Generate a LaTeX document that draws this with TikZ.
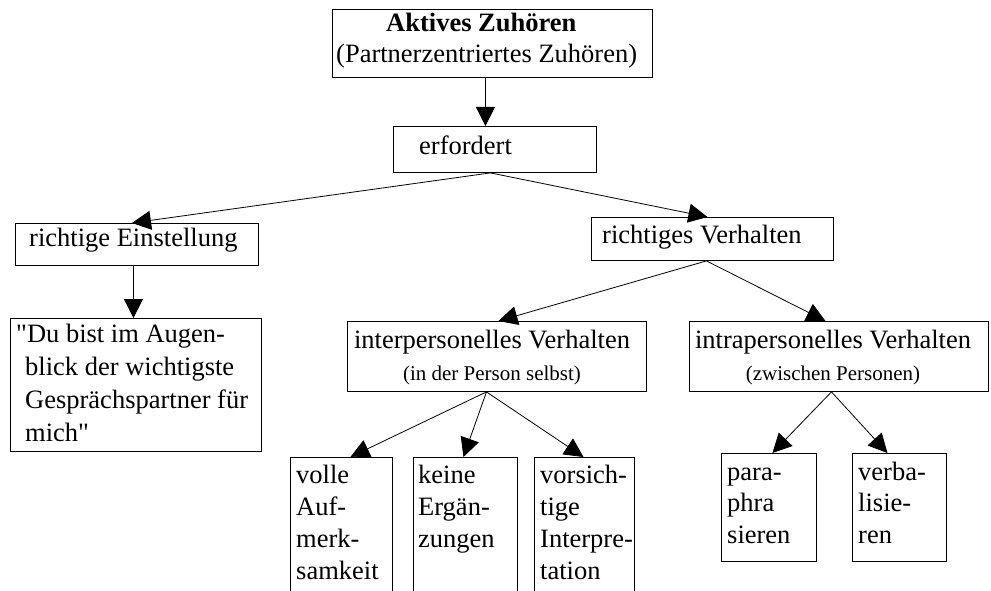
\documentclass[tikz,border=0pt]{standalone}
\usepackage{fontspec}
\setmainfont{Liberation Serif}[Ligatures=TeXOff]
\usetikzlibrary{arrows.meta}
\begin{document}
\begin{tikzpicture}[x=1pt,y=-1pt,
  box/.style={draw, line width=0.9pt, inner sep=0pt, anchor=north west},
  txt/.style={inner sep=0pt, anchor=base west, align=left, font=\fontsize{26.5}{32}\selectfont},
  ctxt/.style={inner sep=0pt, anchor=base, align=center, font=\fontsize{26.5}{32}\selectfont},
  arr/.style={line width=0.8pt, -{Triangle[length=19pt,width=19pt]}}
]
\path[use as bounding box, fill=white] (0,0) rectangle (991,591);
\clip (0,0) rectangle (991,591);

% boxes
\node[box, minimum width=320, minimum height=68] (top) at (332,9) {};
\node[box, minimum width=203, minimum height=46] (erf) at (393,126) {};
\node[box, minimum width=243, minimum height=42] (re) at (15,223) {};
\node[box, minimum width=251, minimum height=133] (quote) at (10,318) {};
\node[box, minimum width=242, minimum height=43] (rv) at (591,217) {};
\node[box, minimum width=299, minimum height=70] (inter) at (347,321) {};
\node[box, minimum width=299, minimum height=70] (intra) at (689,321) {};
\node[box, minimum width=102, minimum height=150] (volle) at (290,457) {};
\node[box, minimum width=104, minimum height=150] (keine) at (413,457) {};
\node[box, minimum width=100, minimum height=150] (vors) at (534,457) {};
\node[box, minimum width=95, minimum height=108] (para) at (721,453) {};
\node[box, minimum width=94, minimum height=108] (verba) at (852,453) {};

% texts (anchor = baseline of the last line)
\node[txt, font=\fontsize{26.5}{31}\selectfont] (ttop) at (336,63) {\hspace*{50pt}\textbf{Aktives Zuhören}\\(Partnerzentriertes Zuhören)};
\node[txt] (terf) at (419,155) {erfordert};
\node[txt] (tre) at (29,246) {richtige Einstellung};
\node[txt, font=\fontsize{26.5}{33}\selectfont] (tquote) at (16,441) {"Du bist im Augen-\\\hspace*{9pt}blick der wichtigste\\\hspace*{9pt}Gesprächspartner für\\\hspace*{9pt}mich"};
\node[txt] (trv) at (602,243) {richtiges Verhalten};
\node[ctxt] (tinter) at (492,380) {interpersonelles Verhalten\\{\fontsize{21}{32}\selectfont (in der Person selbst)}};
\node[ctxt] (tintra) at (833,380) {intrapersonelles Verhalten\\{\fontsize{21}{32}\selectfont (zwischen Personen)}};
\node[txt] (tvolle) at (296,579) {volle\\Auf-\\merk-\\samkeit};
\node[txt] (tkeine) at (418,547) {keine\\Ergän-\\zungen};
\node[txt] (tvors) at (540,579) {vorsich-\\tige\\Interpre-\\tation};
\node[txt, font=\fontsize{26.5}{31.5}\selectfont] (tpara) at (727,543) {para-\\phra\\sieren};
\node[txt, font=\fontsize{26.5}{31.5}\selectfont] (tverba) at (858,543) {verba-\\lisie-\\ren};

% connectors
\draw[arr] ([xshift=-7pt]top.south) -- ([xshift=-9.5pt]erf.north);
\draw[arr] ([xshift=-4.5pt]erf.south) -- ([xshift=-5pt]re.north);
\draw[arr] ([xshift=-4.5pt]erf.south) -- ([xshift=-5pt]rv.north);
\draw[arr] ([xshift=-3.5pt]re.south) -- ([xshift=-2.5pt]quote.north);
\draw[arr] ([xshift=-6pt]rv.south) -- ([xshift=1.5pt]inter.north);
\draw[arr] ([xshift=-6pt]rv.south) -- ([xshift=-13.5pt]intra.north);
\draw[arr] ([xshift=-10.5pt]inter.south) -- ([xshift=9pt]volle.north);
\draw[arr] ([xshift=-10.5pt]inter.south) -- ([xshift=-2pt]keine.north);
\draw[arr] ([xshift=-10.5pt]inter.south) -- ([xshift=-1pt]vors.north);
\draw[arr] ([xshift=-7.5pt]intra.south) -- ([xshift=3.5pt]para.north);
\draw[arr] ([xshift=-7.5pt]intra.south) -- ([xshift=-12pt]verba.north);
\end{tikzpicture}
\end{document}
